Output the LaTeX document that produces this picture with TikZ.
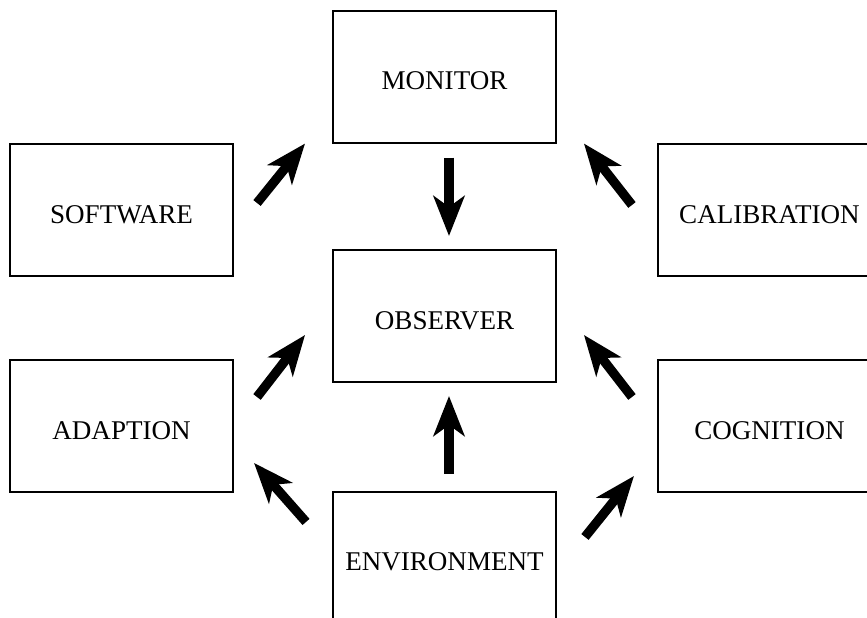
\documentclass[tikz,border=0pt]{standalone}
\usepackage{fontspec}
\setmainfont{Liberation Serif}
\usetikzlibrary{positioning,arrows.meta}
\begin{document}
\begin{tikzpicture}[
  box/.style={draw, rectangle, line width=1.1pt, inner sep=0pt, minimum width=4.46cm, minimum height=2.64cm, text height=0.52cm, text depth=0cm, font=\fontsize{15.4}{18}\selectfont},
  bigarrow/.style={line width=5.3pt, -{Stealth[length=0.8cm, width=0.62cm, inset=0.22cm]}}]
  \useasboundingbox (0,0) rectangle (17.34,12.34);
  \clip (0,0) rectangle (17.34,12.34);
  \node[box] (obs) at (8.89,6.02) {OBSERVER};
  \node[box, above=2.11cm of obs] (mon) {MONITOR};
  \node[box, below=2.16cm of obs] (env) {ENVIRONMENT};
  \node[box, left=1.96cm of obs, yshift=2.12cm] (soft) {SOFTWARE};
  \node[box, left=1.96cm of obs, yshift=-2.2cm] (adapt) {ADAPTION};
  \node[box, right=2cm of obs, yshift=2.12cm] (calib) {CALIBRATION};
  \node[box, right=2cm of obs, yshift=-2.2cm] (cogn) {COGNITION};
  \draw[bigarrow] ([shift={(0.46,0.14)}]soft.east) -- ([shift={(-0.54,0)}]mon.south west);
  \draw[bigarrow] ([shift={(0.09,-0.28)}]mon.south) -- ([shift={(0.09,0.26)}]obs.north);
  \draw[bigarrow] ([shift={(-0.5,0.1)}]calib.west) -- ([shift={(0.54,0)}]mon.south east);
  \draw[bigarrow] ([shift={(0.46,0.58)}]adapt.east) -- ([shift={(-0.54,-0.38)}]obs.west);
  \draw[bigarrow] ([shift={(-0.5,0.58)}]cogn.west) -- ([shift={(0.54,-0.38)}]obs.east);
  \draw[bigarrow] ([shift={(0.09,0.34)}]env.north) -- ([shift={(0.09,-0.26)}]obs.south);
  \draw[bigarrow] ([shift={(-0.52,0.72)}]env.west) -- ([shift={(0.4,0.6)}]adapt.south east);
  \draw[bigarrow] ([shift={(0.56,0.42)}]env.east) -- ([shift={(-0.46,0.34)}]cogn.south west);
\end{tikzpicture}
\end{document}
